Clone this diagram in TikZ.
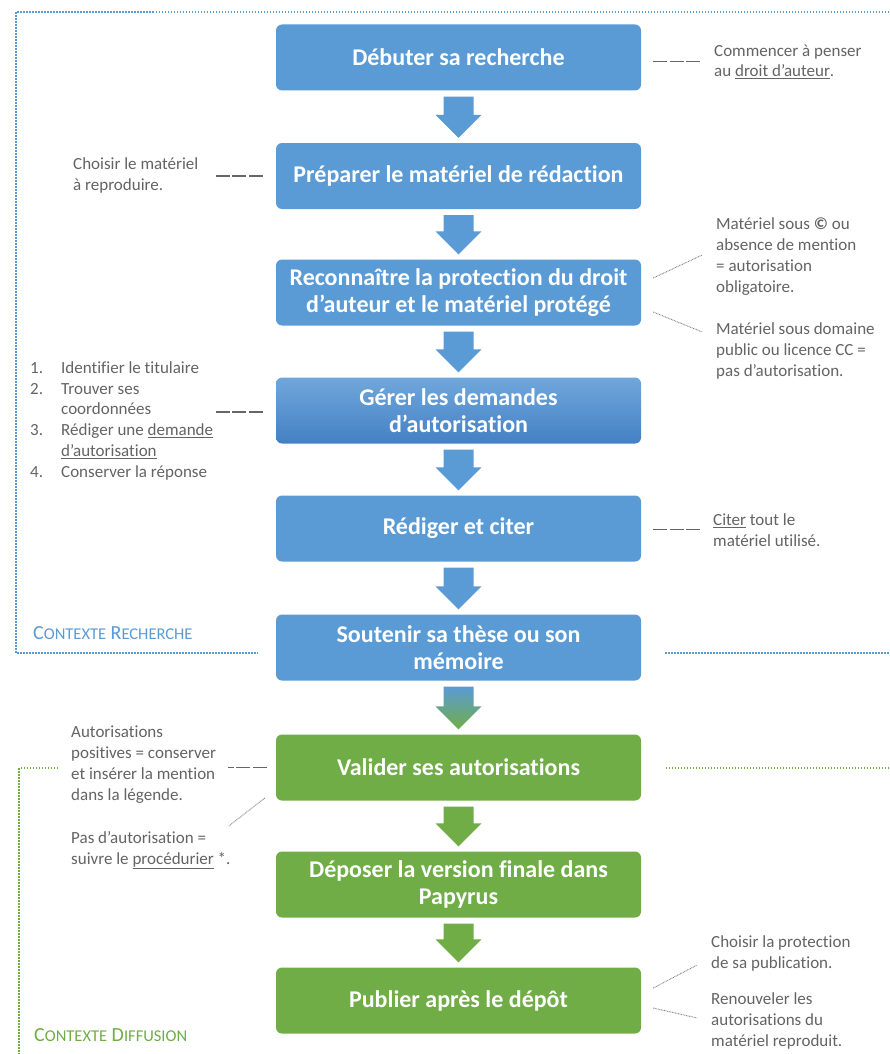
\documentclass[tikz,border=0pt]{standalone}
\usepackage{fontspec}
\setmainfont{Carlito}[Ligatures=NoCommon]
\usetikzlibrary{calc}
\definecolor{bl}{RGB}{91,155,213}
\definecolor{bltop}{RGB}{112,167,219}
\definecolor{blbot}{RGB}{68,128,196}
\definecolor{gr}{RGB}{112,173,71}
\definecolor{tx}{RGB}{100,100,100}
\newcommand\mysc[1]{{\fontsize{16.5}{18}\selectfont #1}}
\newcommand\flowarrow[3]{\path[#3] ($(#1.south)+(-15,6)$) -- ($(#1.south)+(15,6)$) -- ($(#2.north)+(15,-28)$) -- ($(#2.north)+(23,-28)$) -- ($(#2.north)+(0,-5)$) -- ($(#2.north)+(-23,-28)$) -- ($(#2.north)+(-15,-28)$) -- cycle;}
\tikzset{
 stepbox/.style={rounded corners=6pt, minimum width=365pt, minimum height=66pt, text=white, font=\fontsize{24}{27}\selectfont\bfseries, align=center, inner sep=0pt},
 bluebox/.style={stepbox, fill=bl},
 greenbox/.style={stepbox, fill=gr},
 note/.style={anchor=base west, inner sep=0pt, align=left, text=tx, font=\fontsize{17}{20.7}\selectfont},
 dashlink/.style={draw=gray!80!black, line width=1.3pt, dash pattern=on 14pt off 2.5pt},
 dotlink/.style={draw=gray, line width=0.9pt, dash pattern=on 0.8pt off 0.8pt},
 blueframe/.style={draw=bl, line width=2pt, dash pattern=on 1.5pt off 1.5pt},
 greenframe/.style={draw=gr, line width=2pt, dash pattern=on 1.5pt off 1.5pt},
 ctx/.style={anchor=base west, inner sep=0pt, font=\fontsize{20}{22}\selectfont},
}
\begin{document}
\begin{tikzpicture}[x=1pt,y=-1pt]
\useasboundingbox (0,0) rectangle (889,1054);
\fill[white] (0,0) rectangle (889,1054);

% frames
\draw[blueframe] (889,12) -- (16,12) -- (16,653) -- (258,653);
\draw[blueframe] (665,653) -- (889,653);
\draw[greenframe] (889,768) -- (665,768);
\draw[greenframe] (58,768) -- (19,768) -- (19,1054);
\node[ctx, text=bl] (ctxr) at (33,639) {C\mysc{ONTEXTE} R\mysc{ECHERCHE}};
\node[ctx, text=gr] (ctxd) at (34,1041) {C\mysc{ONTEXTE} D\mysc{IFFUSION}};

% boxes
\node[bluebox] (b1) at (458.5,57.5) {Débuter sa recherche};
\node[bluebox] (b2) at (458.5,176) {Préparer le matériel de rédaction};
\node[bluebox] (b3) at (458.5,292.5) {Reconnaître la protection du droit\\d’auteur et le matériel protégé};
\node[stepbox, top color=bltop, bottom color=blbot] (b4) at (458.5,410.5) {Gérer les demandes\\d’autorisation};
\node[bluebox] (b5) at (458.5,528.5) {Rédiger et citer};
\node[bluebox] (b6) at (458.5,647.5) {Soutenir sa thèse ou son\\mémoire};
\node[greenbox] (b7) at (458.5,767.5) {Valider ses autorisations};
\node[greenbox] (b8) at (458.5,884.5) {Déposer la version finale dans\\Papyrus};
\node[greenbox] (b9) at (458.5,1000.5) {Publier après le dépôt};

% arrows
\flowarrow{b1}{b2}{fill=bl}
\flowarrow{b2}{b3}{fill=bl}
\flowarrow{b3}{b4}{fill=bl}
\flowarrow{b4}{b5}{fill=bl}
\flowarrow{b5}{b6}{fill=bl}
\flowarrow{b6}{b7}{top color=bl, bottom color=gr}
\flowarrow{b7}{b8}{fill=gr}
\flowarrow{b8}{b9}{fill=gr}

% notes (anchored at the baseline of their last line)
\node[note] (n1) at (714,77) {Commencer à penser\\au \underline{droit d’auteur}.};
\node[note] (n2) at (73,190) {Choisir le matériel\\à reproduire.};
\node[note] (n3) at (716,292) {Matériel sous \textbf{©} ou\\absence de mention\\= autorisation\\obligatoire.};
\node[note] (n4) at (716,376) {Matériel sous domaine\\public ou licence CC =\\pas d’autorisation.};
\node[note] (n5) at (30,477) {\makebox[31pt][l]{1.}Identifier le titulaire\\\makebox[31pt][l]{2.}Trouver ses\\\hspace*{31pt}coordonnées\\\makebox[31pt][l]{3.}Rédiger une \underline{demande}\\\hspace*{31pt}\underline{d’autorisation}\\\makebox[31pt][l]{4.}Conserver la réponse};
\node[note] (n6) at (713,546) {\underline{Citer} tout le\\matériel utilisé.};
\node[note] (n7) at (71,800) {Autorisations\\positives = conserver\\et insérer la mention\\dans la légende.};
\node[note] (n8) at (71,864) {Pas d’autorisation =\\suivre le \underline{procédurier} *.};
\node[note] (n9) at (711,968) {Choisir la protection\\de sa publication.};
\node[note] (n10) at (711,1046) {Renouveler les\\autorisations du\\matériel reproduit.};

% links
\draw[dashlink] ($(b1.east)+(12,4)$) -- ++(48,0);
\draw[dashlink] ($(b2.west)+(-13,0)$) -- ++(-48,0);
\draw[dotlink] ($(b3.east)+(12,-14.5)$) -- ++(49,-23);
\draw[dotlink] ($(b3.east)+(12,19.5)$) -- ++(49,20);
\draw[dashlink] ($(b4.west)+(-13,1.5)$) -- ++(-48,0);
\draw[dashlink] ($(b5.east)+(12,1)$) -- ++(49,0);
\draw[dashlink] ($(b7.west)+(-9,0)$) -- ++(-39,0);
\draw[dotlink] ($(b7.west)+(-11,30.5)$) -- ++(-36,28);
\draw[dotlink] ($(b9.east)+(12,-12.5)$) -- ++(44,-23);
\draw[dotlink] ($(b9.east)+(12,7.5)$) -- ++(44,10);
\end{tikzpicture}
\end{document}
